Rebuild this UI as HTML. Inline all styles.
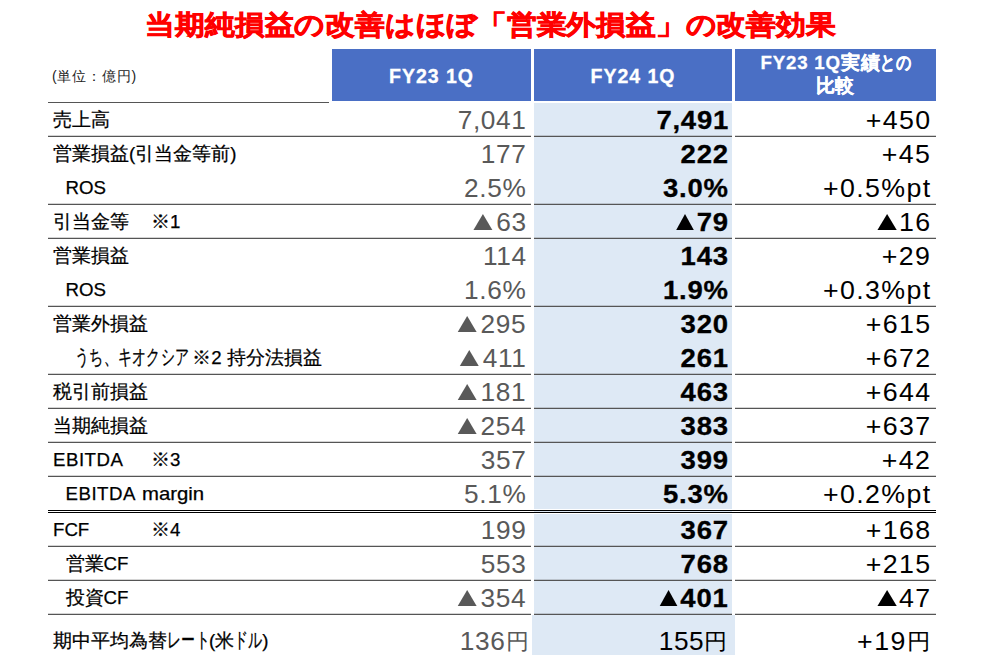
<!DOCTYPE html>
<html lang="ja"><head><meta charset="utf-8"><title>slide</title>
<style>
html,body{margin:0;padding:0;background:#fff;}
body{width:981px;height:663px;position:relative;overflow:hidden;font-family:"Liberation Sans",sans-serif;}
.title{position:absolute;left:0;width:981px;top:4.5px;text-align:center;font-size:30px;line-height:40px;transform:scale(0.993,0.9);font-weight:bold;color:#f00;-webkit-text-stroke:0.8px #f00;white-space:nowrap;}
.unit{position:absolute;left:52px;top:66px;font-size:14px;letter-spacing:0.8px;line-height:20px;color:#222;white-space:nowrap;}
.hd{position:absolute;top:49px;height:52px;background:#4a6fc5;color:#fff;font-weight:bold;font-size:19.5px;padding-top:2px;box-sizing:border-box;display:flex;align-items:center;justify-content:center;text-align:center;letter-spacing:1px;-webkit-text-stroke:0.3px #fff;}
.h3l{position:absolute;left:735px;width:201px;text-align:center;color:#fff;font-weight:bold;font-size:18.67px;line-height:24px;letter-spacing:0.8px;white-space:nowrap;-webkit-text-stroke:0.3px #fff;}
.ulin{position:absolute;left:48px;top:102px;width:281px;height:1px;background:#555;}
.lb{position:absolute;background:#dee9f5;}
.ln{position:absolute;height:1px;background:#555;box-shadow:0 -1px 0 rgba(85,85,85,0.25);}
.dl{position:absolute;left:48px;width:888px;height:1px;background:#000;}
.wl{position:absolute;left:534px;width:198px;height:1px;background:#fff;}
.lbl{position:absolute;font-size:18.67px;line-height:24px;color:#000;white-space:nowrap;-webkit-text-stroke:0.25px #000;}
.v{position:absolute;font-size:25px;line-height:30px;white-space:nowrap;text-align:right;}
.s{display:inline-block;transform-origin:100% 50%;}
.v1{right:454.4px;color:#595959;letter-spacing:0.6px;}
.v1 .s{transform:scaleX(1.05);}
.v2{right:252.3px;color:#000;font-weight:bold;letter-spacing:0.7px;-webkit-text-stroke:0.3px #000;}
.v2 .s{transform:scaleX(1.1);}
.nb{font-weight:normal;letter-spacing:0.6px;right:252.4px;-webkit-text-stroke:0}
.nb .s{transform:scaleX(1.05);}
.v3{right:49.7px;color:#000;letter-spacing:1.3px;}
.v3 .s{transform:scaleX(1.07);}
.v1 .tri,.nb .tri{border-left-width:9.33px;border-right-width:9.33px;margin-right:3.81px}
.v2 .tri{border-left-width:8.91px;border-right-width:8.91px;margin-right:2.73px}
.v3 .tri{border-left-width:9.16px;border-right-width:9.16px;margin-right:2.06px}
.tri{display:inline-block;width:0;height:0;border-left:9px solid transparent;border-right:9px solid transparent;border-bottom:16.5px solid currentColor;margin-right:5px;vertical-align:1.5px;}
.yen{font-size:22px;letter-spacing:0;position:relative;top:-1.5px;margin-right:-2px;}
.v2 .yen,.v3 .yen{margin-right:1.4px}
.kn{display:inline-block;white-space:nowrap;vertical-align:top;}
.kn>span{display:inline-block;transform-origin:0 70%;}
</style></head><body>
<div class="title">当期純損益の改善はほぼ「営業外損益」の改善効果</div>
<div class="unit">(単位：億円)</div>
<div class="hd" style="left:332px;width:199px">FY23 1Q</div>
<div class="hd" style="left:534px;width:198px">FY24 1Q</div>
<div class="hd" style="left:735px;width:201px"></div><div class="h3l" style="top:51px">FY23 1Q実績<span class="kn" style="width:30px"><span style="transform:scaleX(0.8)">との</span></span></div><div class="h3l" style="top:74px">比較</div>
<div class="ulin"></div>
<div class="lb" style="left:534px;top:103px;width:198px;height:511px"></div>
<div class="lb" style="left:532px;top:615px;width:203px;height:40px"></div>
<div class="ln" style="top:136px;left:48px;width:483px"></div><div class="ln" style="top:136px;left:534px;width:198px"></div><div class="ln" style="top:136px;left:735px;width:201px"></div><div class="ln" style="top:204px;left:48px;width:483px"></div><div class="ln" style="top:204px;left:534px;width:198px"></div><div class="ln" style="top:204px;left:735px;width:201px"></div><div class="ln" style="top:238px;left:48px;width:483px"></div><div class="ln" style="top:238px;left:534px;width:198px"></div><div class="ln" style="top:238px;left:735px;width:201px"></div><div class="ln" style="top:306px;left:48px;width:483px"></div><div class="ln" style="top:306px;left:534px;width:198px"></div><div class="ln" style="top:306px;left:735px;width:201px"></div><div class="ln" style="top:374px;left:48px;width:483px"></div><div class="ln" style="top:374px;left:534px;width:198px"></div><div class="ln" style="top:374px;left:735px;width:201px"></div><div class="ln" style="top:408px;left:48px;width:483px"></div><div class="ln" style="top:408px;left:534px;width:198px"></div><div class="ln" style="top:408px;left:735px;width:201px"></div><div class="ln" style="top:442px;left:48px;width:483px"></div><div class="ln" style="top:442px;left:534px;width:198px"></div><div class="ln" style="top:442px;left:735px;width:201px"></div><div class="ln" style="top:476px;left:48px;width:483px"></div><div class="ln" style="top:476px;left:534px;width:198px"></div><div class="ln" style="top:476px;left:735px;width:201px"></div><div class="ln" style="top:546px;left:48px;width:483px"></div><div class="ln" style="top:546px;left:534px;width:198px"></div><div class="ln" style="top:546px;left:735px;width:201px"></div><div class="ln" style="top:580px;left:48px;width:483px"></div><div class="ln" style="top:580px;left:534px;width:198px"></div><div class="ln" style="top:580px;left:735px;width:201px"></div><div class="ln" style="top:614px;left:48px;width:483px"></div><div class="ln" style="top:614px;left:534px;width:198px"></div><div class="ln" style="top:614px;left:735px;width:201px"></div>
<div class="wl" style="top:509px"></div>
<div class="wl" style="top:513px"></div>
<div class="dl" style="top:510px"></div>
<div class="dl" style="top:512px"></div>
<div class="lbl" style="left:53px;top:108.0px">売上高</div><div class="v v1" style="top:105.0px"><span class="s">7,041</span></div><div class="v v2" style="top:105.0px"><span class="s">7,491</span></div><div class="v v3" style="top:105.0px"><span class="s">+450</span></div><div class="lbl" style="left:53px;top:142.0px">営業損益(引当金等前)</div><div class="v v1" style="top:139.0px"><span class="s">177</span></div><div class="v v2" style="top:139.0px"><span class="s">222</span></div><div class="v v3" style="top:139.0px"><span class="s">+45</span></div><div class="lbl" style="left:65.5px;top:176.0px">ROS</div><div class="v v1" style="top:173.0px"><span class="s">2.5%</span></div><div class="v v2" style="top:173.0px"><span class="s">3.0%</span></div><div class="v v3" style="top:173.0px"><span class="s">+0.5%pt</span></div><div class="lbl" style="left:53px;top:210.0px">引当金等</div><div class="lbl" style="left:151px;top:210.0px">※1</div><div class="v v1" style="top:207.0px"><span class="s"><i class="tri"></i>63</span></div><div class="v v2" style="top:207.0px"><span class="s"><i class="tri"></i>79</span></div><div class="v v3" style="top:207.0px"><span class="s"><i class="tri"></i>16</span></div><div class="lbl" style="left:53px;top:244.0px">営業損益</div><div class="v v1" style="top:241.0px"><span class="s">114</span></div><div class="v v2" style="top:241.0px"><span class="s">143</span></div><div class="v v3" style="top:241.0px"><span class="s">+29</span></div><div class="lbl" style="left:65.5px;top:278.0px">ROS</div><div class="v v1" style="top:275.0px"><span class="s">1.6%</span></div><div class="v v2" style="top:275.0px"><span class="s">1.9%</span></div><div class="v v3" style="top:275.0px"><span class="s">+0.3%pt</span></div><div class="lbl" style="left:53px;top:312.0px">営業外損益</div><div class="v v1" style="top:309.0px"><span class="s"><i class="tri"></i>295</span></div><div class="v v2" style="top:309.0px"><span class="s">320</span></div><div class="v v3" style="top:309.0px"><span class="s">+615</span></div><div class="lbl" style="left:75px;top:346.0px"><span class="kn" style="width:112.0px"><span style="transform:scale(0.750,1.13)">うち、キオクシア</span></span> ※2 持分法損益</div><div class="v v1" style="top:343.0px"><span class="s"><i class="tri"></i>411</span></div><div class="v v2" style="top:343.0px"><span class="s">261</span></div><div class="v v3" style="top:343.0px"><span class="s">+672</span></div><div class="lbl" style="left:53px;top:380.0px">税引前損益</div><div class="v v1" style="top:377.0px"><span class="s"><i class="tri"></i>181</span></div><div class="v v2" style="top:377.0px"><span class="s">463</span></div><div class="v v3" style="top:377.0px"><span class="s">+644</span></div><div class="lbl" style="left:53px;top:414.0px">当期純損益</div><div class="v v1" style="top:411.0px"><span class="s"><i class="tri"></i>254</span></div><div class="v v2" style="top:411.0px"><span class="s">383</span></div><div class="v v3" style="top:411.0px"><span class="s">+637</span></div><div class="lbl" style="left:53px;top:448.0px"><span style="letter-spacing:0.5px">EBITDA</span></div><div class="lbl" style="left:151px;top:448.0px">※3</div><div class="v v1" style="top:445.0px"><span class="s">357</span></div><div class="v v2" style="top:445.0px"><span class="s">399</span></div><div class="v v3" style="top:445.0px"><span class="s">+42</span></div><div class="lbl" style="left:65.5px;top:482.0px"><span style="letter-spacing:0.5px">EBITDA</span> <span class="kn" style="width:63px;margin-left:1px"><span style="transform:scaleX(1.09);transform-origin:0 50%">margin</span></span></div><div class="v v1" style="top:479.0px"><span class="s">5.1%</span></div><div class="v v2" style="top:479.0px"><span class="s">5.3%</span></div><div class="v v3" style="top:479.0px"><span class="s">+0.2%pt</span></div><div class="lbl" style="left:53px;top:518.0px">FCF</div><div class="lbl" style="left:151px;top:518.0px">※4</div><div class="v v1" style="top:515.0px"><span class="s">199</span></div><div class="v v2" style="top:515.0px"><span class="s">367</span></div><div class="v v3" style="top:515.0px"><span class="s">+168</span></div><div class="lbl" style="left:65.5px;top:552.0px">営業CF</div><div class="v v1" style="top:549.0px"><span class="s">553</span></div><div class="v v2" style="top:549.0px"><span class="s">768</span></div><div class="v v3" style="top:549.0px"><span class="s">+215</span></div><div class="lbl" style="left:65.5px;top:586.0px">投資CF</div><div class="v v1" style="top:583.0px"><span class="s"><i class="tri"></i>354</span></div><div class="v v2" style="top:583.0px"><span class="s"><i class="tri"></i>401</span></div><div class="v v3" style="top:583.0px"><span class="s"><i class="tri"></i>47</span></div><div class="lbl" style="left:53px;top:629.0px">期中平均為替<span class="kn" style="width:42.0px"><span style="transform:scale(0.750,1.13)">レート</span></span>(米<span class="kn" style="width:28.0px"><span style="transform:scale(0.750,1.13)">ドル</span></span>)</div><div class="v v1" style="top:626.0px"><span class="s">136<span class="yen">円</span></span></div><div class="v v2 nb" style="top:626.0px"><span class="s">155<span class="yen">円</span></span></div><div class="v v3" style="top:626.0px"><span class="s">+19<span class="yen">円</span></span></div>
</body></html>
